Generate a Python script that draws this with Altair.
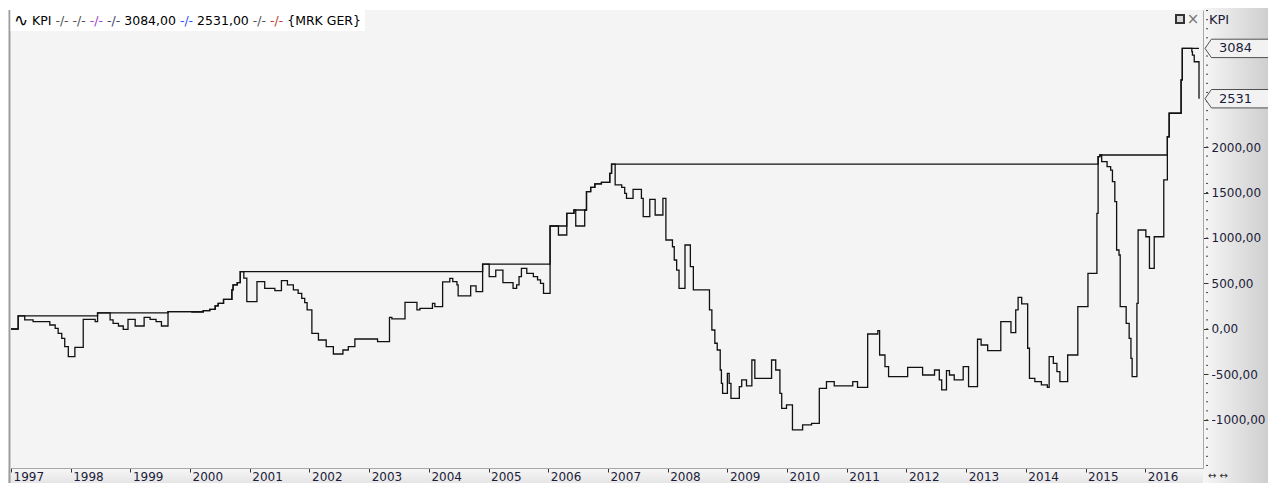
import altair as alt
import pandas as pd

# ---------------- data ----------------
years = [
    1997.00, 1997.12, 1997.23, 1997.37, 1997.65, 1997.74, 1997.79, 1997.85, 1997.90, 1997.96,
    1998.07, 1998.21, 1998.41, 1998.45, 1998.66, 1998.71, 1998.80, 1998.88, 1998.96, 1999.08,
    1999.23, 1999.33, 1999.43, 1999.52, 1999.63, 2000.03, 2000.22, 2000.33, 2000.42, 2000.47,
    2000.56, 2000.70, 2000.72, 2000.79, 2000.84, 2000.90, 2000.95, 2001.12, 2001.25, 2001.42,
    2001.53, 2001.63, 2001.73, 2001.81, 2001.87, 2001.92, 2001.96, 2002.04, 2002.15, 2002.28,
    2002.40, 2002.56, 2002.65, 2002.76, 2003.14, 2003.34, 2003.38, 2003.60, 2003.80, 2003.85,
    2004.06, 2004.10, 2004.23, 2004.35, 2004.40, 2004.47, 2004.49, 2004.70, 2004.79, 2004.90,
    2005.01, 2005.12, 2005.24, 2005.41, 2005.47, 2005.51, 2005.55, 2005.64, 2005.75, 2005.82,
    2005.87, 2005.92, 2006.03, 2006.17, 2006.31, 2006.43, 2006.46, 2006.61, 2006.64, 2006.71,
    2006.78, 2006.89, 2007.03, 2007.06, 2007.12, 2007.23, 2007.28, 2007.31, 2007.42, 2007.56,
    2007.59, 2007.70, 2007.79, 2007.92, 2007.97, 2008.08, 2008.11, 2008.15, 2008.19, 2008.29,
    2008.38, 2008.43, 2008.70, 2008.74, 2008.79, 2008.83, 2008.88, 2008.90, 2008.92, 2009.00,
    2009.03, 2009.06, 2009.20, 2009.24, 2009.32, 2009.41, 2009.46, 2009.74, 2009.81, 2009.88,
    2009.91, 2009.99, 2010.09, 2010.26, 2010.41, 2010.54, 2010.66, 2010.79, 2011.10, 2011.18,
    2011.35, 2011.52, 2011.55, 2011.64, 2011.70, 2012.02, 2012.27, 2012.47, 2012.55, 2012.59,
    2012.67, 2012.72, 2012.80, 2012.95, 2013.04, 2013.19, 2013.25, 2013.36, 2013.58, 2013.75,
    2013.83, 2013.87, 2013.93, 2014.03, 2014.06, 2014.15, 2014.26, 2014.36, 2014.39, 2014.46,
    2014.52, 2014.57, 2014.70, 2014.87, 2015.04, 2015.19, 2015.21, 2015.24, 2015.27, 2015.36,
    2015.42, 2015.45, 2015.49, 2015.52, 2015.56, 2015.58, 2015.68, 2015.73, 2015.76, 2015.78,
    2015.86, 2015.88, 2016.01, 2016.07, 2016.15, 2016.31, 2016.37, 2016.40, 2016.60, 2016.62,
    2016.78, 2016.79, 2016.82, 2016.90,
]
kpi_values = [
    0, 143, 99, 80, 44, 7, -48, -103, -194, -304,
    -202, 106, 80, 178, 99, 62, 33, -4, 106, 33,
    128, 106, 80, 33, 190, 185, 201, 216, 253, 282,
    326, 429, 484, 509, 630, 560, 300, 520, 447, 421,
    531, 484, 429, 392, 337, 289, 209, -48, -121, -194,
    -275, -231, -194, -110, -139, 128, 110, 293, 209, 227,
    282, 245, 517, 557, 520, 484, 363, 473, 410, 712,
    575, 648, 509, 447, 484, 575, 667, 612, 575, 539,
    502, 392, 1132, 1033, 1271, 1308, 1132, 1308, 1509, 1557,
    1594, 1612, 1711, 1813, 1583, 1557, 1491, 1436, 1535, 1436,
    1234, 1425, 1253, 1436, 978, 904, 758, 648, 447, 923,
    685, 429, 209, -11, -157, -231, -451, -597, -707, -487,
    -597, -762, -634, -560, -626, -341, -542, -341, -451, -707,
    -872, -835, -1110, -1055, -1037, -652, -579, -626, -579, -641,
    -55, -19, -286, -414, -524, -421, -506, -451, -560, -670,
    -458, -506, -560, -414, -634, -113, -176, -238, 80, -40,
    209, 348, 275, -212, -542, -579, -615, -641, -304, -377,
    -469, -579, -286, 245, 612, 1271, 1894, 1912, 1839, 1784,
    1747, 1619, 1399, 868, 813, 245, 62, -103, -322, -524,
    282, 1088, 1014, 667, 1014, 1638, 2113, 2371, 2737, 3084,
    3048, 3010, 2937, 2531,
]
year_ticks = list(range(1997, 2017))
y_ticks = [-1000, -500, 0, 500, 1000, 1500, 2000]
minor_ticks = list(range(-1500, 3501, 100))
tag_values = [3084, 2531]
legend_parts = ["KPI", "-/-", "-/-", "-/-", "-/-", "3084,00", "-/-", "2531,00", "-/-", "-/-", "{MRK GER}"]
legend_colors = ["#000000", "#505050", "#505050", "#a040d0", "#404070", "#000000",
                 "#3050ff", "#000000", "#505050", "#c03a2b", "#000000"]

# ---------------- layout ----------------
W, H = 1192, 458
XDOM = [1997.0, 2016.967]
YDOM = [-1528, 3506]
FONT = "DejaVu Sans"
LBL = "#1c1c3a"

df = pd.DataFrame({"t": years, "v": kpi_values})
one = pd.DataFrame({"a": [0]})

xs = alt.Scale(domain=XDOM, nice=False, zero=False)
ys = alt.Scale(domain=YDOM, nice=False, zero=False)

x_axis = alt.Axis(values=year_ticks, labelExpr="format(datum.value,'d')", labelAlign="left",
                  labelBaseline="top", labelPadding=-1, labelOffset=2, labelFont=FONT,
                  labelFontSize=12, labelColor=LBL, tickSize=4, tickColor="#333333",
                  domainColor="#a8a8a8", domainWidth=1, grid=False, title=None,
                  labelFlush=False, labelOverlap=False, zindex=1)
y_axis = alt.Axis(orient="right", values=y_ticks,
                  labelExpr="(datum.value < 0 ? '-' : '') + replace(format(abs(datum.value), '.2f'), '.', ',')",
                  labelFont=FONT, labelFontSize=12, labelColor=LBL, labelPadding=3,
                  tickSize=5, tickColor="#333333", domainColor="#a8a8a8", domainWidth=1,
                  grid=False, title=None, labelOverlap=False, labelFlush=False, zindex=1)

grad_right = alt.LinearGradient(gradient="linear", x1=0, x2=1, y1=0, y2=0,
                                stops=[alt.GradientStop(color="#f6f6f6", offset=0),
                                       alt.GradientStop(color="#cdcdcd", offset=1)])
grad_bottom = alt.LinearGradient(gradient="linear", x1=0, x2=0, y1=0, y2=1,
                                 stops=[alt.GradientStop(color="#f7f7f7", offset=0),
                                        alt.GradientStop(color="#e4e4e4", offset=1)])

bottom_band = alt.Chart(one).mark_rect(fill=grad_bottom).encode(
    x=alt.value(-3), x2=alt.value(1260), y=alt.value(H), y2=alt.value(H + 16))
right_band = alt.Chart(one).mark_rect(fill=grad_right).encode(
    x=alt.value(W), x2=alt.value(1260), y=alt.value(-2), y2=alt.value(H + 16))
left_border = alt.Chart(one).mark_rule(color="#9c9c9c", strokeWidth=2).encode(
    x=alt.value(-1.5), y=alt.value(0), y2=alt.value(H + 16))
legend_box = alt.Chart(one).mark_rect(fill="white").encode(
    x=alt.value(-0.5), x2=alt.value(354), y=alt.value(0), y2=alt.value(21))

# legend text segments (DejaVu Sans advance widths, em units)
adv = {" ": 0.318, "-": 0.361, "/": 0.337, ",": 0.318, "K": 0.656, "P": 0.603, "I": 0.295,
       "{": 0.636, "}": 0.636, "M": 0.863, "R": 0.695, "G": 0.775, "E": 0.632}
FS = 12.5
def wid(s):
    return sum(adv.get(c, 0.636) for c in s) * FS

legend_layers = [alt.Chart(one).mark_text(text="\u223f", font=FONT, fontSize=17, align="left",
                                          baseline="middle", color="#000000").encode(
    x=alt.value(3), y=alt.value(11))]
pos = 21.0
for part, col in zip(legend_parts, legend_colors):
    legend_layers.append(alt.Chart(one).mark_text(text=part, font=FONT, fontSize=FS, align="left",
                                                  baseline="middle", color=col).encode(
        x=alt.value(pos), y=alt.value(11)))
    pos += wid(part) + adv[" "] * FS

kpi = alt.Chart(df).mark_line(interpolate="step-after", color="#111111", strokeWidth=1.3).encode(
    x=alt.X("t:Q", scale=xs, axis=x_axis), y=alt.Y("v:Q", scale=ys, axis=y_axis))
hwm = alt.Chart(df).transform_window(
    hwm="max(v)", frame=[None, 0], sort=[alt.SortField("t")]
).mark_line(interpolate="step-after", color="#111111", strokeWidth=1.3).encode(
    x=alt.X("t:Q", scale=xs, axis=x_axis), y=alt.Y("hwm:Q", scale=ys, axis=y_axis))

minor = alt.Chart(pd.DataFrame({"m": minor_ticks})).mark_rule(color="#444444", strokeWidth=1).encode(
    y=alt.Y("m:Q", scale=ys, axis=y_axis), x=alt.value(W + 3), x2=alt.value(W + 5))

tag_df = pd.DataFrame({"tv": tag_values})
tag_shape = "M -1 0 L -0.84 -0.23 L 1 -0.23 L 1 0.23 L -0.84 0.23 Z"
tags = alt.Chart(tag_df).mark_point(shape=tag_shape, size=6400, filled=True, fill="#f2f2f2",
                                    stroke="#505050", strokeWidth=1, opacity=1).encode(
    y=alt.Y("tv:Q", scale=ys, axis=y_axis), x=alt.value(W + 42))
tag_text = alt.Chart(tag_df).mark_text(font=FONT, fontSize=13, align="left", baseline="middle",
                                       color=LBL).encode(
    y=alt.Y("tv:Q", scale=ys, axis=y_axis), x=alt.value(W + 16), text=alt.Text("tv:Q", format="d"))

header = alt.Chart(one).mark_text(text="KPI", font=FONT, fontSize=13, align="left",
                                  baseline="middle", color=LBL).encode(x=alt.value(W + 6), y=alt.value(10))
icon_box = alt.Chart(one).mark_rect(fill="#d8d8d8", stroke="#333333", strokeWidth=2).encode(
    x=alt.value(1165), x2=alt.value(1173), y=alt.value(5), y2=alt.value(13))
icon_x = alt.Chart(one).mark_text(text="\u00d7", font=FONT, fontSize=15, align="center",
                                  baseline="middle", color="#777777").encode(x=alt.value(1182), y=alt.value(9))
arrows = alt.Chart(one).mark_text(text="\u2194 \u2194", font=FONT, fontSize=10, align="left",
                                  baseline="middle", color="#333333").encode(x=alt.value(W + 5), y=alt.value(H + 8))

chart = alt.layer(
    bottom_band, right_band, left_border, legend_box, *legend_layers,
    kpi, hwm, minor, tags, tag_text, header, icon_box, icon_x, arrows
).properties(
    width=W, height=H,
    padding={"left": 3, "top": 2, "right": 1260 - 3 - W, "bottom": 475 - 2 - H},
    autosize=alt.AutoSizeParams(type="none"),
    background="white",
).configure_view(fill="#f4f4f4", stroke=None)

chart.save("out.html", embed_options={"renderer": "svg", "actions": False})
